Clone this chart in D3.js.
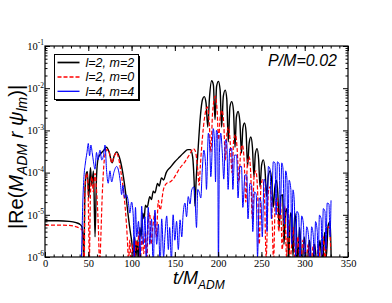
<!DOCTYPE html>
<html>
<head>
<meta charset="utf-8">
<script src="https://cdn.jsdelivr.net/npm/d3@7"></script>
<style>
body { margin: 0; background: #fff; }
svg { display: block; }
</style>
</head>
<body>
<svg id="chart" width="392" height="303"></svg>
<script>
// legend / series names
var modes = ["l=2, m=2", "l=2, m=0", "l=4, m=4"];
var colors = ["#000000", "#ff0000", "#0000ff"];
var xTicks = [0, 50, 100, 150, 200, 250, 300, 350];
var yDecades = [-6, -5, -4, -3, -2, -1];

// |Re(M r psi_lm)|, [t/M, value]
var l2m2 = [[0,7.2e-6],[15,7.2e-6],[28,7e-6],[36,6.5e-6],[40,6e-6],[42.5,5.3e-6],[44,2.5e-6],[44.8,6e-7],
  [46,3e-5],[48,1e-4],[49,1.05e-4],[50.5,2.5e-5],[52.5,1.3e-4],[54,5e-5],[56,1.1e-4],[57.8,3e-6],[59.5,8e-5],
  [61.5,2.2e-4],[65,2.9e-4],[68,3.4e-4],[71,4e-4],[74,3.1e-4],[77.5,1.7e-4],[80,2.5e-4],[83,3.1e-4],[86.5,2.1e-4],
  [90,9.5e-5],[93,3.5e-5],[96,1e-5],[98.5,4e-6],[100,2.5e-6],[102,1.2e-6],[103.5,3e-6],[105,1e-6],[106.5,2.5e-6],
  [108,6e-7],[109.5,5e-6],[111,3e-6],[113,1.1e-5],[114.5,8e-6],[116,1.7e-5],[118,1.5e-5],[121,2.7e-5],[123,2.3e-5],
  [125,3.6e-5],[127,3.3e-5],[130,5.5e-5],[132,4.8e-5],[134.5,7.5e-5],[137,6.7e-5],[140,1e-4],[145,1.35e-4],
  [150,1.8e-4],[155,2.3e-4],[160,2.9e-4],[165,3.5e-4],[168,3.5e-4],[170.5,2.4e-4],[172.3,6e-5],[173.3,1.6e-5],
  [174.5,6e-5],[177,4e-4],[179.5,2.2e-3],[182,5.5e-3],[184,6.3e-3],[186,4.5e-3],[188,1.2e-3],[190,6e-3],
  [192.5,1.5e-2],[194.5,1.2e-2],[196.4,1.8e-3],[198.2,1.1e-2],[200.3,1.45e-2],[202.3,9e-3],[204,1.2e-3],
  [206,6.5e-3],[208.2,9e-3],[210,5.5e-3],[211.7,5.4e-4],[213.6,3.6e-3],[215.7,4.8e-3],[217.7,3e-3],[219.5,4e-4],
  [221,2e-3],[223,2.8e-3],[225,1.7e-3],[227,2.9e-4],[228.5,1.1e-3],[230.5,1.5e-3],[232.3,9e-4],[234,1.4e-4],
  [235.8,5e-4],[237.8,7e-4],[239.6,4e-4],[241.4,8e-5],[243,2.8e-4],[245,3.7e-4],[246.8,2e-4],[248.4,4.6e-5],
  [250.2,1.5e-4],[252.2,2e-4],[254.2,1.1e-4],[256,2.7e-5],[258,8.5e-5],[260.2,1.1e-4],[262,6e-5],[263.7,1.5e-5],
  [265.5,4.5e-5],[267.5,6.5e-5],[269,3e-5],[270.5,5e-6],[272.5,2.8e-5],[274.5,3e-5],[276,2e-6],[278,1.2e-5],
  [279.5,1.4e-5],[281.5,8e-7],[283.5,1.1e-5],[285,9e-6],[286.5,1e-6],[288.5,1.1e-5],[290,6e-6],[292,8e-7],
  [294,5e-6],[297,7e-7],[299.5,3e-6],[302.5,6e-7],[305.5,2.5e-6],[308.5,5e-7],[311.5,2e-6],[314.5,5e-7],
  [317.5,2.5e-6],[320.5,6e-7],[323,3.8e-6],[325,1e-6],[327,5.5e-6],[329.5,7e-6],[330.5,1e-6]];

var l2m0 = [[0,5.7e-6],[15,5.7e-6],[28,5.6e-6],[36,5.2e-6],[40,4.8e-6],[43,4.3e-6],[44.5,2e-6],[45.3,6e-7],
  [46.2,4.6e-5],[48.2,9.6e-5],[49.5,6e-5],[50.5,5e-6],[51.2,8e-7],[52.5,3e-5],[54,8e-5],[55.8,3.5e-5],[57.8,9.6e-5],
  [59.5,4e-5],[61.5,6e-6],[63.2,6e-7],[64.5,3e-6],[66,2.5e-5],[67.4,1e-4],[69.5,2.8e-4],[71.5,3.5e-4],[74,3.1e-4],
  [77,1.7e-4],[79.5,2.3e-4],[82.3,3e-4],[85,2.2e-4],[87.5,1.1e-4],[90.5,3.9e-5],[93,1.2e-5],[95,3e-6],[96.5,8e-7],
  [98,2.5e-6],[99.5,6e-7],[101.5,2e-6],[103,5e-7],[105,2.5e-6],[107,1.5e-6],[108.5,4e-6],[110,8e-7],[112,3e-6],
  [114,1.2e-6],[116,4e-6],[117.5,7e-7],[119.3,7.6e-6],[121,1.1e-5],[122.5,2e-6],[124.5,5e-6],[127,1.1e-5],
  [128.5,3e-6],[131,2.2e-5],[133,1.3e-5],[136.7,3.9e-5],[140.6,5.6e-5],[144.4,6e-5],[148,7e-5],[152,9.5e-5],
  [156,1.3e-4],[161.7,1.8e-4],[167.5,2.8e-4],[171.3,3.7e-4],[173.5,3.3e-4],[176.4,1.2e-4],[178,5e-5],
  [179.5,1.5e-4],[181,4.1e-4],[183,1.2e-3],[185,2.5e-3],[187.5,3.6e-3],[189.7,1.5e-3],[191.6,3e-4],[193.5,2.5e-3],
  [196.7,6.5e-3],[198.8,3e-3],[200.5,6e-4],[202.3,2e-3],[204.5,3e-3],[206.5,1.4e-3],[208.4,2e-4],[210.2,9e-4],
  [212,1.2e-3],[214,5e-4],[216,1e-4],[218,6e-4],[220,8e-4],[222,3.5e-4],[224,6e-5],[226,3.2e-4],[228,4.5e-4],
  [230,2e-4],[232,2e-5],[233.8,1.7e-4],[235.7,2.4e-4],[237.6,1e-4],[239.5,8e-6],[241.5,8e-5],[243.5,1.1e-4],
  [245.5,4e-5],[247.5,2e-6],[249.5,5e-5],[251.5,6.8e-5],[253.5,2.5e-5],[255.5,1e-6],[258,3.5e-5],[260,4.6e-5],
  [262,1.5e-5],[264,8e-7],[266,2e-5],[268,2.5e-5],[270,4e-6],[272,2e-5],[274,1.5e-6],[277,1.6e-5],[279,1e-6],
  [281,1.1e-5],[283,8e-7],[286.8,5e-6],[289,6e-7],[292,3e-6],[295,5e-7],[298,2.5e-6],[301,5e-7],[304,2e-6],
  [307,5e-7],[310,2e-6],[313,5e-7],[316,2e-6],[318.5,5e-7],[321.5,3e-6],[323.5,8e-7],[325.4,4.3e-6],
  [328.4,5.2e-6],[330,1.5e-6]];

var l4m4 = [[41.5,4e-7],[42.5,2e-6],[43.5,1.5e-5],[45,8e-5],[46.5,1.6e-4],[48.5,3e-4],[50,4.9e-4],[51.5,2.5e-4],
  [53,4.5e-4],[54.5,3e-4],[56,1.8e-4],[57.8,1.2e-4],[59.5,3e-4],[61,2e-4],[63.5,3.4e-4],[65.5,2e-4],[67.5,2.5e-4],
  [69.3,4.5e-4],[71.3,1e-4],[73,5.6e-5],[75,1.1e-4],[77,6e-5],[79.5,1e-4],[82.8,1.4e-4],[85,1.1e-4],[87,6e-5],
  [88.5,3e-5],[90,5e-5],[92,2.5e-5],[94,3e-5],[96,2.2e-5],[98,1.1e-5],[100,2e-5],[102,9e-6],[103,8e-7],
  [104.5,1.5e-5],[106,3e-6],[108,7e-6],[110,1e-6],[111.7,1.6e-5],[113.5,2e-6],[115.5,9e-6],[117,8e-7],
  [119.3,1.5e-5],[121,2e-6],[123,8e-6],[125,6e-7],[127,1.3e-5],[129,2e-6],[131,6e-6],[133,6e-7],[134.8,8e-6],
  [137,1e-6],[138.5,3e-6],[140.6,9.4e-6],[142.5,1.5e-6],[144,5e-6],[146,8e-7],[148,1e-5],[150,2.5e-6],[152,7e-6],
  [154,1.5e-6],[156,7.6e-6],[158,3e-6],[159.5,1e-5],[161.7,1.9e-5],[163.5,9e-6],[165.5,2.7e-5],[167.5,1.8e-5],
  [169.5,3.9e-5],[172,4.6e-5],[173.5,2e-5],[175,5e-6],[176.5,4e-5],[178,3.5e-5],[180,2.5e-5],[181.5,1e-4],
  [183.5,3.4e-4],[185.5,1.5e-4],[186.5,4e-5],[188.7,8.6e-4],[190.5,3e-4],[191.5,8e-5],[194.4,1.1e-3],[196,4e-4],
  [197,6e-5],[198,1e-3],[199.5,8e-4],[200.3,5e-7],[201.5,3e-4],[203,8.6e-4],[205,2.5e-4],[206.5,7e-5],[208.5,6e-4],
  [210,5e-4],[211.5,4e-5],[213.5,3.7e-4],[215.6,3.7e-4],[217,4e-5],[219,2.6e-4],[221.4,2.6e-4],[223,2.5e-5],
  [225,1.4e-4],[227,1.4e-4],[228.5,1.5e-5],[231,8.8e-5],[233,8.8e-5],[234.5,8e-6],[236.7,5.6e-5],[238.7,5e-5],
  [240,4e-6],[242,3.5e-5],[244,3e-5],[245.5,1e-6],[247.5,2.5e-5],[249.5,2e-5],[251,3e-6],[253,7e-5],[255,5e-5],
  [256.5,4e-6],[258,1.4e-4],[260,1.2e-4],[261.5,8e-6],[263.7,1.8e-4],[265.7,1.7e-4],[267,1e-5],[268.5,1.8e-4],
  [270.5,1.6e-4],[271.8,1e-5],[273.5,1.7e-4],[275,1.2e-4],[276.5,6e-6],[278,1.1e-4],[279.5,7e-5],[280.5,3e-6],
  [282,6.6e-5],[284,4e-5],[285,2e-6],[286.5,3.9e-5],[288,2e-5],[289.5,1e-6],[291,1.2e-5],[293,1e-5],[294.5,8e-7],
  [296.5,9.4e-6],[298.5,6e-6],[300,6e-7],[302.3,5.2e-6],[304.5,3e-6],[306,5e-7],[308,5.2e-6],[310,3e-6],
  [311,5e-7],[312.5,6.9e-6],[314.5,4e-6],[315.5,7e-7],[317,9.8e-6],[319,8e-6],[320,1e-6],[321.5,1.4e-5],
  [323.4,1.2e-5],[324.5,1.5e-6],[326,1.9e-5],[328,1.8e-5],[329.2,3e-6],[330.4,2.2e-5]];

var series = [l2m2, l2m0, l4m4];
var dashes = [null, "4,2", null];
var widths = [1.4, 1.2, 1.0];

var pL = 45, pR = 348, pT = 46, pB = 257;
var svg = d3.select("#chart");

var x = d3.scaleLinear().domain([0, 350]).range([pL, pR]);
var y = d3.scaleLog().domain([1e-6, 1e-1]).range([pB, pT]);

var minors = [];
yDecades.slice(0, -1).forEach(function(e) {
  for (var k = 2; k <= 9; k++) minors.push(k * Math.pow(10, e));
});
var majors = yDecades.map(function(e) { return Math.pow(10, e); });
var xMinor = d3.range(0, 351, 10);

svg.append("clipPath").attr("id", "clip")
  .append("rect").attr("x", pL).attr("y", pT).attr("width", pR - pL).attr("height", pB - pT);

var line = d3.line()
  .x(function(d) { return x(d[0]); })
  .y(function(d) { return y(d[1]); })
  .curve(d3.curveMonotoneX);

var plot = svg.append("g").attr("clip-path", "url(#clip)");
series.forEach(function(s, i) {
  plot.append("path")
    .datum(s)
    .attr("d", line)
    .attr("fill", "none")
    .attr("stroke", colors[i])
    .attr("stroke-width", widths[i])
    .attr("stroke-dasharray", dashes[i]);
});

// axes, ticks pointing inward on all four sides
function styleAxis(g) {
  g.select(".domain").remove();
  g.selectAll("line").attr("stroke", "#000");
  g.selectAll("text").attr("font-family", "'Liberation Serif', 'Times New Roman', serif")
    .attr("font-size", 10.5).attr("fill", "#000");
}

svg.append("g").attr("transform", "translate(0," + pB + ")")
  .call(d3.axisBottom(x).tickValues(xMinor).tickSize(-2.5).tickSizeOuter(0).tickFormat(""))
  .call(styleAxis);
svg.append("g").attr("transform", "translate(0," + pT + ")")
  .call(d3.axisTop(x).tickValues(xMinor).tickSize(-2.5).tickSizeOuter(0).tickFormat(""))
  .call(styleAxis);
svg.append("g").attr("transform", "translate(0," + pB + ")")
  .call(d3.axisBottom(x).tickValues(xTicks).tickSize(-5).tickSizeOuter(0).tickPadding(3).tickFormat(d3.format("d")))
  .call(styleAxis);
svg.append("g").attr("transform", "translate(0," + pT + ")")
  .call(d3.axisTop(x).tickValues(xTicks).tickSize(-5).tickSizeOuter(0).tickFormat(""))
  .call(styleAxis);

svg.append("g").attr("transform", "translate(" + pL + ",0)")
  .call(d3.axisLeft(y).tickValues(minors).tickSize(-2.5).tickSizeOuter(0).tickFormat(""))
  .call(styleAxis);
svg.append("g").attr("transform", "translate(" + pR + ",0)")
  .call(d3.axisRight(y).tickValues(minors).tickSize(-2.5).tickSizeOuter(0).tickFormat(""))
  .call(styleAxis);
svg.append("g").attr("transform", "translate(" + pR + ",0)")
  .call(d3.axisRight(y).tickValues(majors).tickSize(-5).tickSizeOuter(0).tickFormat(""))
  .call(styleAxis);

var yAx = svg.append("g").attr("transform", "translate(" + pL + ",0)")
  .call(d3.axisLeft(y).tickValues(majors).tickSize(-5).tickSizeOuter(0).tickPadding(1).tickFormat(""))
  .call(styleAxis);
yAx.selectAll(".tick text").each(function(d) {
  var t = d3.select(this);
  t.append("tspan").text("10");
  t.append("tspan").attr("dy", "-4.5").attr("font-size", 7.5).text(String(Math.round(Math.log10(d))));
});

svg.append("rect")
  .attr("x", pL).attr("y", pT).attr("width", pR - pL).attr("height", pB - pT)
  .attr("fill", "none").attr("stroke", "#000").attr("stroke-width", 1.2);

// axis titles
var yLab = svg.append("text")
  .attr("transform", "translate(23,157) rotate(-90)")
  .attr("text-anchor", "middle")
  .attr("font-family", "'Liberation Sans', Arial, sans-serif")
  .attr("font-size", 20);
yLab.append("tspan").text("|Re(");
yLab.append("tspan").attr("font-style", "italic").text("M");
yLab.append("tspan").attr("font-style", "italic").attr("font-size", 14).attr("dy", 4).text("ADM");
yLab.append("tspan").attr("font-style", "italic").attr("dy", -4).text(" r \u03c8");
yLab.append("tspan").attr("font-style", "italic").attr("font-size", 14).attr("dy", 4).text("lm");
yLab.append("tspan").attr("dy", -4).text(")|");

var xLab = svg.append("text")
  .attr("x", 173).attr("y", 284)
  .attr("font-family", "'Liberation Sans', Arial, sans-serif")
  .attr("font-style", "italic")
  .attr("font-size", 18);
xLab.append("tspan").text("t/M");
xLab.append("tspan").attr("font-size", 12).attr("dy", 5).text("ADM");

svg.append("text")
  .attr("x", 268).attr("y", 66)
  .attr("font-family", "'Liberation Sans', Arial, sans-serif")
  .attr("font-style", "italic")
  .attr("font-size", 16)
  .text("P/M=0.02");

// legend
var lg = svg.append("g");
lg.append("rect").attr("x", 56).attr("y", 56).attr("width", 84).attr("height", 45).attr("fill", "#000");
lg.append("rect").attr("x", 54.5).attr("y", 54.5).attr("width", 84).attr("height", 45)
  .attr("fill", "#fff").attr("stroke", "#000").attr("stroke-width", 1);
modes.forEach(function(m, i) {
  var yy = 62.5 + i * 14.4;
  lg.append("line").attr("x1", 57.5).attr("x2", 79.5).attr("y1", yy).attr("y2", yy)
    .attr("stroke", colors[i]).attr("stroke-width", widths[i] + 0.3).attr("stroke-dasharray", dashes[i]);
  lg.append("text").attr("x", 85.5).attr("y", yy + 4.5)
    .attr("font-family", "'Liberation Sans', Arial, sans-serif")
    .attr("font-style", "italic").attr("font-size", 12.5)
    .text(m);
});
</script>
</body>
</html>
